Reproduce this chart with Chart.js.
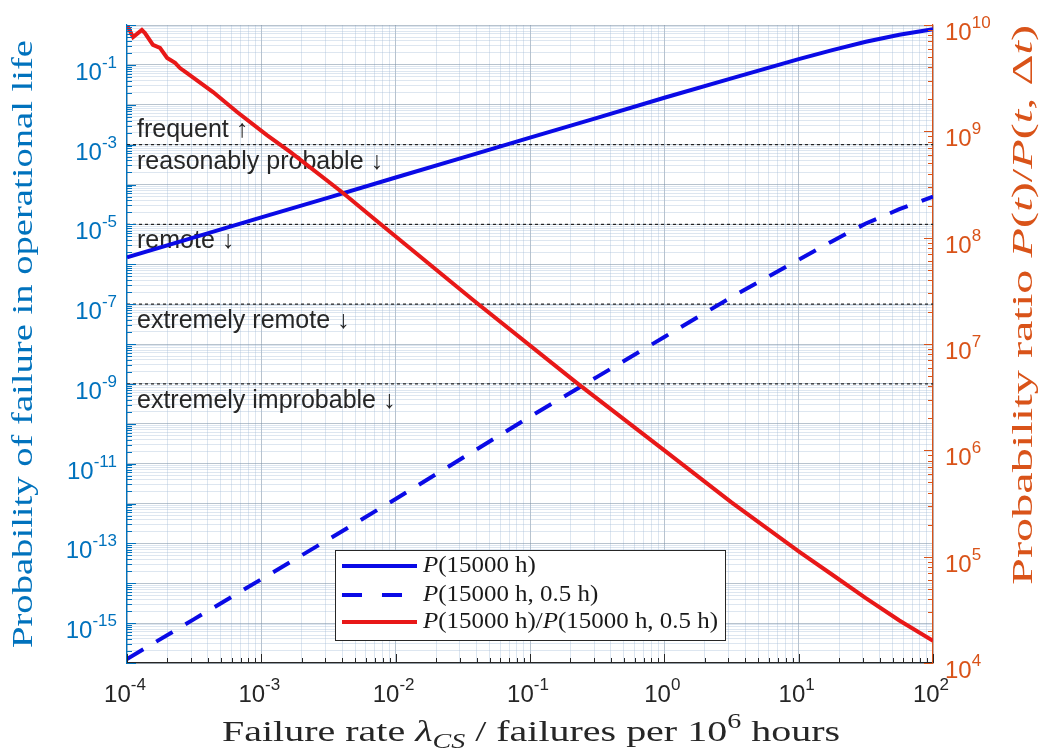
<!DOCTYPE html>
<html>
<head>
<meta charset="utf-8">
<script src="https://cdn.jsdelivr.net/npm/chart.js@4/dist/chart.umd.min.js"></script>
<style>
  body { margin: 0; background: #fff; }
  canvas { display: block; }
</style>
</head>
<body>
<canvas id="chart" width="1042" height="756"></canvas>
<script>
// failure rate lambda_CS, failures per 10^6 hours
let rates = [1e-4, 3.16e-4, 1e-3, 3.16e-3, 1e-2, 3.16e-2, 0.1, 0.316, 1, 3.16, 10, 17.8, 31.6, 56.2, 100];
// P(15000 h)
let pLife = [1.5e-6, 4.7e-6, 1.5e-5, 4.7e-5, 1.5e-4, 4.7e-4, 1.5e-3, 4.7e-3, 1.5e-2, 4.6e-2, 0.14, 0.235, 0.38, 0.57, 0.78];
// P(15000 h, 0.5 h)
let pWindow = [1.26e-16, 1.26e-15, 1.26e-14, 1.26e-13, 1.3e-12, 1.4e-11, 1.5e-10, 1.5e-9, 1.5e-8, 1.5e-7, 1.3e-6, 3.8e-6, 1.05e-5, 2.4e-5, 5.0e-5];

// ratio curve is sampled more densely where it is noisy
let ratioRates = [1e-4, 1.11e-4, 1.29e-4, 1.36e-4, 1.56e-4, 1.76e-4, 1.99e-4, 2.28e-4, 2.48e-4, 2.8e-4, 4.37e-4, 6.6e-4, 1.1e-3, 1.64e-3, 4.06e-3, 6.8e-3, 0.0377, 0.224, 1, 3.16, 10, 17.8, 31.6, 56.2, 100];
let ratio = [1.0e10, 7.7e9, 9.0e9, 8.4e9, 6.5e9, 6.1e9, 4.9e9, 4.4e9, 3.94e9, 3.53e9, 2.34e9, 1.52e9, 9.2e8, 6.4e8, 2.63e8, 1.53e8, 2.59e7, 4.29e6, 1.0e6, 3.24e5, 1.12e5, 6.76e4, 4.07e4, 2.51e4, 1.62e4];

// probability classes
let limits = [1e-3, 1e-5, 1e-7, 1e-9];
let classText = ["frequent ↑", "reasonably probable ↓", "remote ↓", "extremely remote ↓", "extremely improbable ↓"];
let classLevel = [1e-3, 1e-3, 1e-5, 1e-7, 1e-9];
let classAbove = [true, false, false, false, false];

let xRange = [1e-4, 1e2];
let leftRange = [1e-16, 1];
let rightRange = [1e4, 1e10];

let leftColor = "#0072BD";
let rightColor = "#D95319";
let blue = "#0a0ae6";
let red = "#e81818";
let sans = '"Liberation Sans", Arial, sans-serif';
let serif = '"Liberation Serif", "Times New Roman", serif';

let logTicks = (lo, hi) => {
    let out = [];
    for (let e = lo; e < hi; e++) {
        for (let m = 1; m < 10; m++) out.push({value: m * Math.pow(10, e)});
    }
    out.push({value: Math.pow(10, hi)});
    return out;
};
let isMajor = (v) => Math.abs(Math.log10(v) - Math.round(Math.log10(v))) < 1e-6;
let gridColor = (c) => isMajor(c.tick.value) ? "rgba(125,145,165,0.55)" : "rgba(165,190,215,0.38)";

let pairs = (xs, ys) => xs.map((x, i) => ({x: x, y: ys[i]}));

let datasets = [
    {label: "P(15000 h)/P(15000 h, 0.5 h)", data: pairs(ratioRates, ratio), yAxisID: "y2",
        borderColor: red, borderWidth: 4, order: 0},
    {label: "P(15000 h)", data: pairs(rates, pLife), yAxisID: "y",
        borderColor: blue, borderWidth: 4, order: 1},
    {label: "P(15000 h, 0.5 h)", data: pairs(rates, pWindow), yAxisID: "y",
        borderColor: blue, borderWidth: 4, borderDash: [19, 15], order: 2}
];
limits.forEach(v => {
    datasets.push({label: "", data: pairs(xRange, [v, v]), yAxisID: "y",
        borderColor: "#222", borderWidth: 1.2, borderDash: [3, 3], order: 10});
});
datasets.forEach(d => { d.pointRadius = 0; d.fill = false; d.tension = 0; });

// rich text helpers for the serif titles and legend
let partFont = (p, size) => (p.i ? "italic " : "") + ((p.sub || p.sup) ? Math.round(size * 0.7) : size) + "px " + serif;
let partsWidth = (ctx, parts, size) => parts.reduce((w, p) => {
    ctx.font = partFont(p, size);
    return w + ctx.measureText(p.t).width;
}, 0);
let drawParts = (ctx, parts, size, x, y, sx) => {
    ctx.save();
    ctx.translate(x, y);
    ctx.scale(sx, 1);
    let cx = 0;
    parts.forEach(p => {
        ctx.font = partFont(p, size);
        let dy = p.sub ? size * 0.22 : p.sup ? -size * 0.42 : 0;
        ctx.fillText(p.t, cx, dy);
        cx += ctx.measureText(p.t).width;
    });
    ctx.restore();
};
let drawTitle = (ctx, parts, size, width, cx, cy, angle, color) => {
    ctx.save();
    ctx.fillStyle = color;
    ctx.textBaseline = "alphabetic";
    ctx.textAlign = "left";
    ctx.translate(cx, cy);
    ctx.rotate(angle);
    let w = partsWidth(ctx, parts, size);
    drawParts(ctx, parts, size, -width / 2, 0, width / w);
    ctx.restore();
};

// 10^n tick labels
let drawPower = (ctx, exp, x, tickY, align, color, baseDy, expDy) => {
    ctx.save();
    ctx.fillStyle = color;
    ctx.textAlign = "left";
    ctx.textBaseline = "alphabetic";
    let es = String(exp);
    ctx.font = "24px " + sans;
    let bw = ctx.measureText("10").width;
    ctx.font = "17px " + sans;
    let ew = ctx.measureText(es).width;
    let total = bw + ew;
    let x0 = align === "right" ? x - total : align === "center" ? x - total / 2 : x;
    ctx.font = "24px " + sans;
    ctx.fillText("10", x0, tickY + baseDy);
    ctx.font = "17px " + sans;
    ctx.fillText(es, x0 + bw, tickY + expDy);
    ctx.restore();
};

let classLabels = {
    id: "classLabels",
    beforeDatasetsDraw(chart) {
        let ctx = chart.ctx, y = chart.scales.y, area = chart.chartArea;
        ctx.save();
        ctx.fillStyle = "#262626";
        ctx.font = "25px " + sans;
        ctx.textBaseline = "alphabetic";
        classText.forEach((t, i) => {
            let py = y.getPixelForValue(classLevel[i]);
            ctx.fillText(t, area.left + 10, classAbove[i] ? py - 8 : py + 24);
        });
        ctx.restore();
    }
};

let axesDecor = {
    id: "axesDecor",
    afterDraw(chart) {
        let ctx = chart.ctx, area = chart.chartArea;
        let sx = chart.scales.x, sy = chart.scales.y, sy2 = chart.scales.y2;
        ctx.save();
        ctx.lineWidth = 1;

        // inward tick marks
        ctx.strokeStyle = leftColor;
        logTicks(-16, 0).forEach(t => {
            let py = Math.round(sy.getPixelForValue(t.value)) + 0.5;
            let len = isMajor(t.value) ? 9 : 5;
            ctx.beginPath(); ctx.moveTo(area.left, py); ctx.lineTo(area.left + len, py); ctx.stroke();
        });
        ctx.strokeStyle = rightColor;
        logTicks(4, 10).forEach(t => {
            let py = Math.round(sy2.getPixelForValue(t.value)) + 0.5;
            let len = isMajor(t.value) ? 9 : 5;
            ctx.beginPath(); ctx.moveTo(area.right, py); ctx.lineTo(area.right - len, py); ctx.stroke();
        });
        ctx.strokeStyle = "#262626";
        logTicks(-4, 2).forEach(t => {
            let px = Math.round(sx.getPixelForValue(t.value)) + 0.5;
            let len = isMajor(t.value) ? 9 : 5;
            ctx.beginPath(); ctx.moveTo(px, area.bottom); ctx.lineTo(px, area.bottom - len); ctx.stroke();
        });

        // tick labels
        for (let e = -15; e <= -1; e += 2) {
            drawPower(ctx, e, 117, sy.getPixelForValue(Math.pow(10, e)), "right", leftColor, 15, 3);
        }
        for (let e = 4; e <= 10; e++) {
            drawPower(ctx, e, 945, sy2.getPixelForValue(Math.pow(10, e)), "left", rightColor, 15, 3);
        }
        for (let e = -4; e <= 2; e++) {
            drawPower(ctx, e, sx.getPixelForValue(Math.pow(10, e)) - 2, area.bottom, "center", "#262626", 39, 27);
        }

        // axis titles
        drawTitle(ctx, [{t: "Failure rate "}, {t: "λ", i: true}, {t: "CS", i: true, sub: true},
            {t: " / failures per 10"}, {t: "6", sup: true}, {t: " hours"}],
            30, 618, 531, 741, 0, "#262626");
        drawTitle(ctx, [{t: "Probability of failure in operational life"}],
            30, 608, 32, 344, -Math.PI / 2, leftColor);
        drawTitle(ctx, [{t: "Probability ratio "}, {t: "P", i: true}, {t: "("}, {t: "t", i: true}, {t: ")/"},
            {t: "P", i: true}, {t: "("}, {t: "t", i: true}, {t: ", Δ"}, {t: "t", i: true}, {t: ")"}],
            30, 560, 1032, 305, -Math.PI / 2, rightColor);

        // legend
        let box = {x: 335, y: 550, w: 390, h: 90};
        ctx.fillStyle = "#fff";
        ctx.fillRect(box.x, box.y, box.w, box.h);
        ctx.strokeStyle = "#262626";
        ctx.lineWidth = 1;
        ctx.strokeRect(box.x + 0.5, box.y + 0.5, box.w, box.h);

        let rows = [
            {parts: [{t: "P", i: true}, {t: "(15000 h)"}], color: blue, dash: []},
            {parts: [{t: "P", i: true}, {t: "(15000 h, 0.5 h)"}], color: blue, dash: [20, 20]},
            {parts: [{t: "P", i: true}, {t: "(15000 h)/"}, {t: "P", i: true}, {t: "(15000 h, 0.5 h)"}], color: red, dash: []}
        ];
        let rowY = [566, 595, 622];
        let legSize = 23;
        let stretch = 295 / partsWidth(ctx, rows[2].parts, legSize);
        rows.forEach((r, i) => {
            ctx.save();
            ctx.strokeStyle = r.color;
            ctx.lineWidth = 4;
            ctx.setLineDash(r.dash);
            ctx.beginPath(); ctx.moveTo(342, rowY[i]); ctx.lineTo(417, rowY[i]); ctx.stroke();
            ctx.restore();
            ctx.fillStyle = "#1a1a1a";
            ctx.textBaseline = "middle";
            drawParts(ctx, r.parts, legSize, 423, rowY[i], stretch);
        });
        ctx.restore();
    }
};

let fixSize = (prop, v) => (scale) => { scale[prop] = v; };

new Chart(document.getElementById("chart"), {
    type: "line",
    data: {datasets: datasets},
    options: {
        responsive: false,
        animation: false,
        layout: {padding: {top: 25, left: 0, right: 0, bottom: 0}},
        plugins: {legend: {display: false}, tooltip: {enabled: false}},
        scales: {
            x: {
                type: "logarithmic", min: xRange[0], max: xRange[1],
                afterBuildTicks: (s) => { s.ticks = logTicks(-4, 2); },
                afterFit: fixSize("height", 93),
                ticks: {display: false},
                grid: {color: gridColor, lineWidth: 1, drawTicks: false},
                border: {color: "#262626", width: 1.2}
            },
            y: {
                type: "logarithmic", position: "left", min: leftRange[0], max: leftRange[1],
                afterBuildTicks: (s) => { s.ticks = logTicks(-16, 0); },
                afterFit: fixSize("width", 127),
                ticks: {display: false},
                grid: {color: gridColor, lineWidth: 1, drawTicks: false},
                border: {color: leftColor, width: 1.2}
            },
            y2: {
                type: "logarithmic", position: "right", min: rightRange[0], max: rightRange[1],
                afterFit: fixSize("width", 109),
                ticks: {display: false},
                grid: {display: false, drawTicks: false},
                border: {color: rightColor, width: 1.2}
            }
        }
    },
    plugins: [classLabels, axesDecor]
});
</script>
</body>
</html>
